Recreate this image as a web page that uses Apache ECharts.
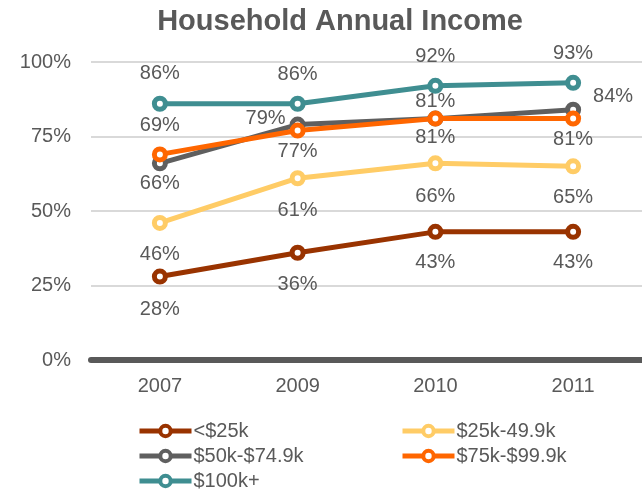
<!DOCTYPE html>
<html>
<head>
<meta charset="utf-8">
<script src="https://cdn.jsdelivr.net/npm/echarts@6/dist/echarts.min.js"></script>
<style>
  html, body { margin: 0; padding: 0; background: #fff; }
  #chart { width: 642px; height: 494px; }
</style>
</head>
<body>
<div id="chart"></div>
<script>
// Share of households by income bracket, per survey year
const years = ['2007', '2009', '2010', '2011'];
const seriesNames = ['<$25k', '$25k-49.9k', '$50k-$74.9k', '$75k-$99.9k', '$100k+'];
const under25k = [28, 36, 43, 43];
const from25kTo50k = [46, 61, 66, 65];
const from50kTo75k = [66, 79, 81, 84];
const from75kTo100k = [69, 77, 81, 81];
const over100k = [86, 86, 92, 93];
const yTicks = [0, 25, 50, 75, 100];

const colors = ['#993300', '#ffcc66', '#5f5f5f', '#ff6600', '#3f8e91'];
const values = [under25k, from25kTo50k, from50kTo75k, from75kTo100k, over100k];

// value-label placement, [dx, dy] from the point centre, so crowded labels stay apart
const labelOffsets = [
  [[0, 33], [0, 32], [0, 31], [0, 31]],
  [[0, 32], [0, 32], [0, 33], [0, 31]],
  [[0, 20], [-32, -6], [0, -17], [40, -13]],
  [[0, -29], [0, 21], [0, 19], [0, 21]],
  [[0, -30], [0, -29], [0, -29], [0, -29]]
];

const textColor = '#595959';
const font = 'Liberation Sans, Arial, sans-serif';

const series = seriesNames.map((name, i) => ({
  name: name,
  type: 'line',
  data: values[i].map((v, j) => ({
    value: v,
    label: { offset: labelOffsets[i][j] }
  })),
  symbol: 'circle',
  symbolSize: 11,
  itemStyle: { color: '#ffffff', borderWidth: 5, borderColor: colors[i] },
  lineStyle: { color: colors[i], width: 5 },
  label: {
    show: true,
    position: 'inside',
    formatter: p => p.value + '%',
    color: textColor,
    fontSize: 20,
    fontFamily: font
  },
  emphasis: { disabled: true },
  z: 2 + i
}));

// one legend block per entry, laid out in two columns
const legendSlots = [
  { name: seriesNames[0], left: 137, top: 421 },
  { name: seriesNames[1], left: 400, top: 421 },
  { name: seriesNames[2], left: 137, top: 446 },
  { name: seriesNames[3], left: 400, top: 446 },
  { name: seriesNames[4], left: 137, top: 471 }
];
const legends = legendSlots.map(s => ({
  data: [s.name],
  left: s.left,
  top: s.top,
  padding: 0,
  itemWidth: 52,
  itemHeight: 13,
  selectedMode: false,
  lineStyle: { width: 5 },
  itemStyle: { borderWidth: 4 },
  textStyle: { color: textColor, fontSize: 20, fontFamily: font, padding: [0, 0, 0, -3] }
}));

const chart = echarts.init(document.getElementById('chart'), null, { renderer: 'canvas' });
chart.setOption({
  animation: false,
  backgroundColor: '#ffffff',
  title: {
    text: 'Household Annual Income',
    left: 335,
    textAlign: 'center',
    top: 2,
    textStyle: { color: textColor, fontSize: 29, fontWeight: 'bold', fontFamily: font }
  },
  legend: legends,
  grid: { left: 91, right: -11, top: 62, bottom: 134, containLabel: false },
  xAxis: {
    type: 'category',
    data: years,
    boundaryGap: true,
    axisLine: { show: true, lineStyle: { color: '#595959', width: 6 } },
    axisTick: { show: false },
    axisLabel: { color: textColor, fontSize: 20, fontFamily: font, margin: 16 }
  },
  yAxis: {
    type: 'value',
    min: yTicks[0],
    max: yTicks[yTicks.length - 1],
    interval: yTicks[1] - yTicks[0],
    axisLine: { show: false },
    axisTick: { show: false },
    axisLabel: { color: textColor, fontSize: 20, fontFamily: font, margin: 20, formatter: v => v + '%' },
    splitLine: {
      lineStyle: { color: '#d9d9d9', width: 2 }
    }
  },
  series: series
});
</script>
</body>
</html>
